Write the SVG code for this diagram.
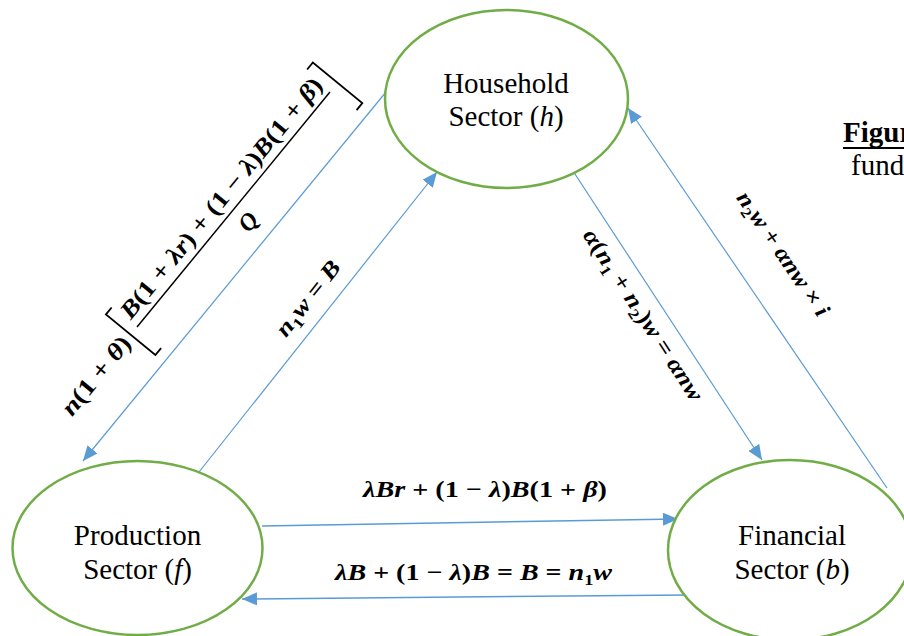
<svg xmlns="http://www.w3.org/2000/svg" width="904" height="636" viewBox="0 0 904 636">
  <style>
    .node { fill: #ffffff; stroke: #70AD47; stroke-width: 2.5; }
    .lbl { font-family: "Liberation Serif", "Times New Roman", serif; font-size: 29px; fill: #000; }
    .flow { stroke: #5B9BD5; stroke-width: 1.2; fill: none; marker-end: url(#head); }
    .m { font-family: "Liberation Serif", "Times New Roman", serif; font-weight: bold; font-size: 23px; fill: #000; }
    .i { font-style: italic; }
    .sub { font-size: 15px; }
    .brk { stroke: #000; stroke-width: 1.8; fill: none; }
  </style>
  <defs>
    <marker id="head" markerUnits="userSpaceOnUse" markerWidth="16" markerHeight="13" refX="15" refY="6.5" orient="auto">
      <path d="M0,0 L15,6.5 L0,13 z" fill="#5B9BD5"/>
    </marker>
  </defs>

  <rect width="904" height="636" fill="#ffffff"/>

  <!-- connectors -->
  <g id="connectors">
    <line class="flow" x1="386" y1="92" x2="83" y2="461"/>
    <line class="flow" x1="199" y1="472" x2="437" y2="172"/>
    <line class="flow" x1="573" y1="171" x2="762" y2="460"/>
    <line class="flow" x1="887" y1="488" x2="628" y2="108"/>
    <line class="flow" style="stroke-width:1.5" x1="262" y1="526" x2="678" y2="519"/>
    <line class="flow" style="stroke-width:1.5" x1="687" y1="595" x2="242" y2="599"/>

    <!-- household to production: n(1+θ)[...] -->
    <g id="label-hf" transform="translate(137,327) rotate(-50.6)">
      <text class="m" x="-16" y="7" text-anchor="end" textLength="95" lengthAdjust="spacingAndGlyphs" style="font-size:24px"><tspan class="i">n</tspan>(1 + <tspan class="i">θ</tspan>)</text>
      <path class="brk" d="M-1,-32 H-10 V32 H-1"/>
      <text class="m" x="153" y="-9" text-anchor="middle" textLength="304" lengthAdjust="spacingAndGlyphs" style="font-size:24px"><tspan class="i">B</tspan>(1 + <tspan class="i">λr</tspan>) + (1 − <tspan class="i">λ</tspan>)<tspan class="i">B</tspan>(1 + <tspan class="i">β</tspan>)</text>
      <line x1="0" y1="0" x2="304" y2="0" stroke="#000" stroke-width="1.5"/>
      <text class="m i" x="152" y="27" text-anchor="middle" style="font-size:24px">Q</text>
      <path class="brk" d="M307,-32 H316 V32 H307"/>
    </g>

    <!-- production to household -->
    <g id="label-fh" transform="translate(314,303) rotate(-51.6)">
      <text class="m" x="0" y="0" text-anchor="middle" textLength="90" lengthAdjust="spacingAndGlyphs"><tspan class="i">n</tspan><tspan class="sub" dy="5">1</tspan><tspan class="i" dy="-5">w</tspan> = <tspan class="i">B</tspan></text>
    </g>

    <!-- household to financial -->
    <g id="label-hb" transform="translate(637,319) rotate(56.8)">
      <text class="m" x="0" y="0" text-anchor="middle" textLength="200" lengthAdjust="spacingAndGlyphs"><tspan class="i">α</tspan>(<tspan class="i">n</tspan><tspan class="sub" dy="5">1</tspan><tspan dy="-5"> + </tspan><tspan class="i">n</tspan><tspan class="sub" dy="5">2</tspan><tspan dy="-5">)</tspan><tspan class="i">w</tspan> = <tspan class="i">αnw</tspan></text>
    </g>

    <!-- financial to household -->
    <g id="label-bh" transform="translate(777,258) rotate(55.7)">
      <text class="m" x="0" y="0" text-anchor="middle" textLength="146" lengthAdjust="spacingAndGlyphs"><tspan class="i">n</tspan><tspan class="sub" dy="5">2</tspan><tspan class="i" dy="-5">w</tspan> + <tspan class="i">αnw</tspan> × <tspan class="i">i</tspan></text>
    </g>

    <!-- production to financial -->
    <text id="label-fb" class="m" x="485" y="497" text-anchor="middle" textLength="244" lengthAdjust="spacingAndGlyphs"><tspan class="i">λBr</tspan> + (1 − <tspan class="i">λ</tspan>)<tspan class="i">B</tspan>(1 + <tspan class="i">β</tspan>)</text>

    <!-- financial to production -->
    <text id="label-bf" class="m" x="335" y="580" textLength="277" lengthAdjust="spacingAndGlyphs"><tspan class="i">λB</tspan> + (1 − <tspan class="i">λ</tspan>)<tspan class="i">B</tspan> = <tspan class="i">B</tspan> = <tspan class="i">n</tspan><tspan class="sub" dy="5">1</tspan><tspan class="i" dy="-5">w</tspan></text>
  </g>

  <!-- sectors -->
  <g id="household">
    <ellipse class="node" cx="506.5" cy="99" rx="121.5" ry="89"/>
    <text class="lbl" x="506" y="93" text-anchor="middle">Household</text>
    <text class="lbl" x="506" y="126" text-anchor="middle">Sector (<tspan font-style="italic">h</tspan>)</text>
  </g>

  <g id="production">
    <ellipse class="node" cx="137.5" cy="548" rx="125" ry="87"/>
    <text class="lbl" x="137.5" y="545" text-anchor="middle">Production</text>
    <text class="lbl" x="137.5" y="579" text-anchor="middle">Sector (<tspan font-style="italic">f</tspan>)</text>
  </g>

  <g id="financial">
    <ellipse class="node" cx="790" cy="550" rx="122" ry="90"/>
    <text class="lbl" x="792" y="545" text-anchor="middle">Financial</text>
    <text class="lbl" x="792" y="579" text-anchor="middle">Sector (<tspan font-style="italic">b</tspan>)</text>
  </g>

  <!-- caption fragment, running past the right edge -->
  <g id="caption">
    <text class="lbl" x="843" y="142" font-weight="bold">Figur</text>
    <line x1="843" y1="148" x2="904" y2="148" stroke="#000" stroke-width="2"/>
    <text class="lbl" x="851" y="175">fund</text>
  </g>
</svg>
